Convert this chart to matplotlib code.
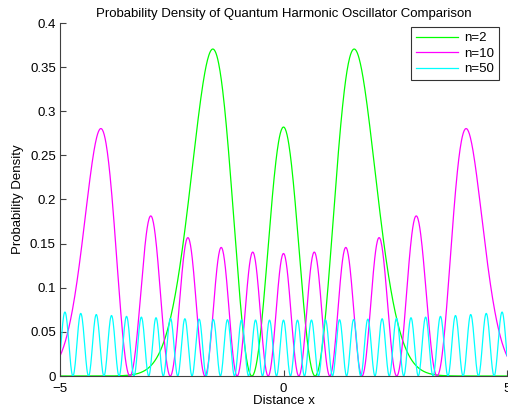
import numpy as np
import matplotlib
matplotlib.use('Agg')
import matplotlib.pyplot as plt

# quantum numbers shown in the legend
levels = [2, 10, 50]
colors = ['#00ff00', '#ff00ff', '#00ffff']
labels = ['n=2', 'n=10', 'n=50']
x_range = [-5, 5]
y_range = [0, 0.4]
x_ticks = [-5, 0, 5]
y_ticks = [0, 0.05, 0.1, 0.15, 0.2, 0.25, 0.3, 0.35, 0.4]


def density(n, x):
    # normalized hermite functions by recurrence (no overflow for n=50)
    p0 = np.pi ** -0.25 * np.exp(-x ** 2 / 2)
    if n == 0:
        return p0 ** 2
    p1 = np.sqrt(2) * x * p0
    for k in range(1, n):
        p0, p1 = p1, np.sqrt(2 / (k + 1)) * x * p1 - np.sqrt(k / (k + 1)) * p0
    return p1 ** 2


plt.rcParams['font.family'] = ['Liberation Sans', 'DejaVu Sans']
plt.rcParams['font.size'] = 9.5

fig = plt.figure(figsize=(5.08, 4.15), dpi=100)
ax = fig.add_axes([60 / 508, 39 / 415, 447 / 508, 353 / 415])

x = np.linspace(x_range[0], x_range[1], 1001)
for n, c, lab in zip(levels, colors, labels):
    ax.plot(x, density(n, x), color=c, lw=0.9, label=lab)

ax.set_xlim(x_range)
ax.set_ylim(y_range)
ax.set_xticks(x_ticks)
ax.set_xticklabels(['\u22125', '0', '5'])
ax.set_yticks(y_ticks)
ax.set_yticklabels(['0', '0.05', '0.1', '0.15', '0.2', '0.25', '0.3', '0.35', '0.4'])
ax.spines['top'].set_visible(False)
ax.spines['right'].set_visible(False)
for s in ['left', 'bottom']:
    ax.spines[s].set_color('#404040')
    ax.spines[s].set_linewidth(0.8)
ax.tick_params(direction='in', length=4, width=0.8, color='#404040', pad=3)
ax.tick_params(axis='x', pad=5)

ax.set_title('Probability Density of Quantum Harmonic Oscillator Comparison', fontsize=9.5, pad=4)
ax.set_xlabel('Distance x', labelpad=0)
ax.set_ylabel('Probability Density', labelpad=4)

leg = ax.legend(loc='upper right', bbox_to_anchor=(0.988, 0.995), frameon=True, fancybox=False,
                edgecolor='black', handlelength=3.2, borderpad=0.35, labelspacing=0.25,
                handletextpad=0.5, borderaxespad=0.2)
leg.get_frame().set_linewidth(0.8)

fig.savefig('out.png', dpi=100)
